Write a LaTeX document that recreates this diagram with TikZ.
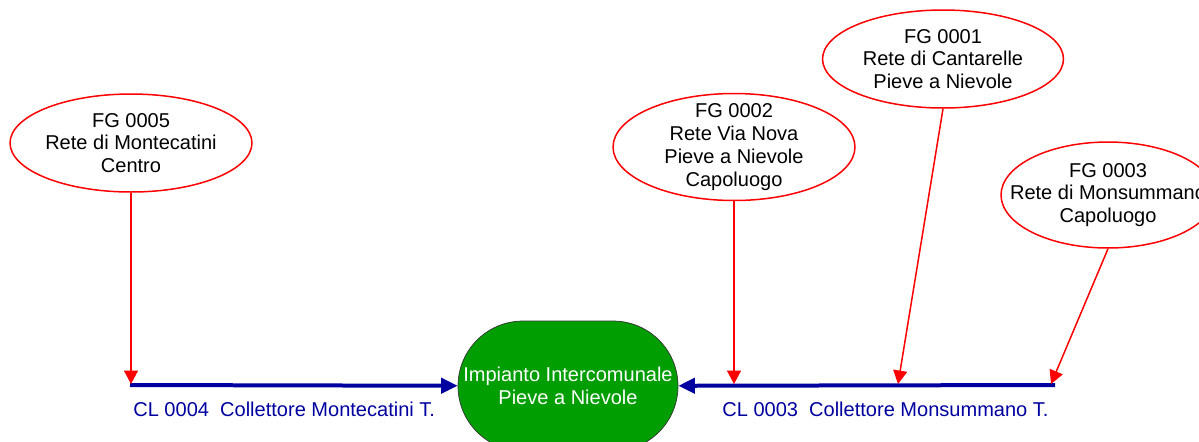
\documentclass[tikz,border=0pt]{standalone}
\usepackage{fontspec}
\setmainfont{Liberation Sans}
\usetikzlibrary{arrows.meta,shapes.geometric,shapes.misc}
\definecolor{rosso}{RGB}{255,0,0}
\definecolor{blu}{RGB}{0,0,160}
\definecolor{verde}{RGB}{0,158,0}
\tikzset{
fg node/.style={ellipse,draw=rosso,line width=0.03cm,inner sep=-20pt,align=center,font=\fontsize{11.4}{13}\selectfont},
impianto/.style={rounded rectangle,fill=verde,draw=black!80,line width=0.4pt,minimum width=4.4cm,minimum height=2.6cm,inner sep=0pt,align=center,text=white,font=\fontsize{11.4}{13}\selectfont},
scarico/.style={-{Triangle[length=0.27cm,width=0.28cm]},draw=rosso,line width=0.03cm},
collettore/.style={-{Triangle[length=0.33cm,width=0.3cm]},draw=blu,line width=0.08cm},
cl label/.style={anchor=west,text=blu,inner sep=0pt,font=\fontsize{11.4}{13}\selectfont}}

\begin{document}
\begin{tikzpicture}[x=0.02cm,y=-0.02cm]

\useasboundingbox (0,0) rectangle (1199,441);
\clip (0,0) rectangle (1199,441);

\node[fg node,minimum width=4.84cm,minimum height=1.96cm] (fg5) at (131,143) {FG 0005\\Rete di Montecatini\\Centro};
\node[fg node,minimum width=4.84cm,minimum height=2.14cm] (fg2) at (734,147) {FG 0002\\Rete Via Nova\\Pieve a Nievole\\Capoluogo};
\node[fg node,minimum width=4.82cm,minimum height=1.96cm] (fg1) at (943,59) {FG 0001\\Rete di Cantarelle\\Pieve a Nievole};
\node[fg node,minimum width=4.28cm,minimum height=2.12cm] (fg3) at (1108,195) {FG 0003\\Rete di Monsummano\\Capoluogo};

\node[impianto] (ip) at (568,386) {Impianto Intercomunale\\Pieve a Nievole};

\coordinate (a5) at (131,384);
\coordinate (a2) at (734,384);
\coordinate (a1) at (898,384);
\coordinate (a3) at (1051,384);
\coordinate (c4) at (130,385);
\coordinate (c3) at (1055,385);

\draw[collettore] (c4) -- (ip);
\draw[collettore] (c3) -- (ip);

\draw[scarico] (fg5.south) -- (a5);
\draw[scarico] (fg2.south) -- (a2);
\draw[scarico] (fg1.south) -- (a1);
\draw[scarico] (fg3.south) -- (a3);

\node[cl label] (cl4) at (133,409) {CL 0004\ \ Collettore Montecatini T.};
\node[cl label] (cl3) at (722,409) {CL 0003\ \ Collettore Monsummano T.};
\end{tikzpicture}
\end{document}
